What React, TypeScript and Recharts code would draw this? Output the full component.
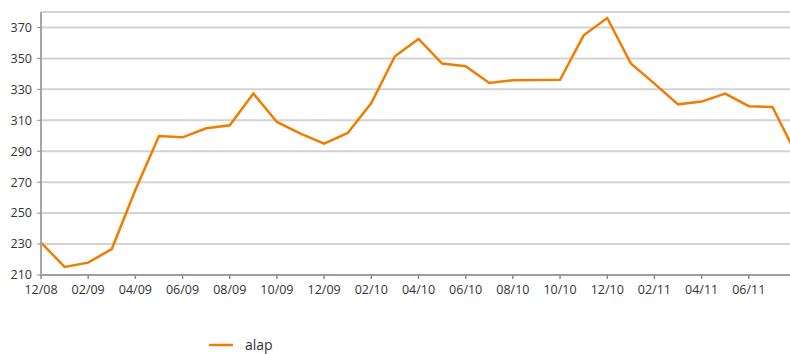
import React from "react";
import { LineChart, Line, XAxis, YAxis, CartesianGrid } from "recharts";

// havi adatok 12/08 - 08/11
const months = [
  "12/08", "01/09", "02/09", "03/09", "04/09", "05/09", "06/09", "07/09", "08/09", "09/09", "10/09", "11/09",
  "12/09", "01/10", "02/10", "03/10", "04/10", "05/10", "06/10", "07/10", "08/10", "09/10", "10/10", "11/10",
  "12/10", "01/11", "02/11", "03/11", "04/11", "05/11", "06/11", "07/11", "08/11",
];

const alap = [
  231, 215.2, 218, 226.8, 265, 299.8, 299, 304.8, 306.8, 327.3, 308.9, 301.4,
  294.9, 301.8, 321.2, 351.4, 362.6, 346.7, 344.9, 334.1, 335.9, 336.1, 336.2, 364.9,
  376.1, 346.7, 333.7, 320.3, 322.1, 327.3, 319.1, 318.6, 288.4,
];

const yTicks = [210, 230, 250, 270, 290, 310, 330, 350, 370, 380];
const xTicks = months.filter((_, i) => i % 2 === 0 && i < months.length - 1);

const data = months.map((m, i) => ({ month: m, alap: alap[i] }));

const FONT = "'Open Sans', sans-serif";
const ORANGE = "#ef7d00";

function YTick(props: any) {
  const { x, y, payload } = props;
  if (payload.value === 380) return null;
  return (
    <g>
      <line x1={x + 5} x2={x + 9} y1={y} y2={y} stroke="#8c8c8c" strokeWidth={1} />
      <text x={x} y={y} dy="0.35em" textAnchor="end" fill="#333" fontSize={12.5} fontFamily={FONT}>
        {payload.value}
      </text>
    </g>
  );
}

export default function App() {
  return (
    <div style={{ position: "absolute", left: 0, top: 0, width: 790, height: 354, background: "#fff", overflow: "hidden" }}>
      {/* a diagram jobbra kilóg a képből, ahogy az eredetin is */}
      <LineChart width={796} height={354} data={data} margin={{ top: 12, right: 0, left: 0, bottom: 49 }}>
        <CartesianGrid vertical={false} stroke="#d3d3d3" strokeWidth={2} />
        <XAxis
          dataKey="month"
          ticks={xTicks}
          interval={0}
          height={30}
          tickSize={4}
          tickMargin={6}
          stroke="#8c8c8c"
          strokeWidth={1.5}
          tick={{ fill: "#333", fontSize: 12.5, fontFamily: FONT }}
        />
        <YAxis
          domain={[210, 380]}
          ticks={yTicks}
          interval={0}
          width={41}
          tickSize={4}
          tickMargin={5}
          tickLine={false}
          stroke="#a6a6a6"
          strokeWidth={2}
          tick={<YTick />}
        />
        <Line
          type="linear"
          dataKey="alap"
          stroke={ORANGE}
          strokeWidth={2.5}
          dot={false}
          isAnimationActive={false}
        />
      </LineChart>
      {/* jelmagyarázat */}
      <div style={{ position: "absolute", left: 209, top: 335, display: "flex", alignItems: "center", fontFamily: FONT }}>
        <svg width={24} height={4} style={{ display: "block" }}>
          <line x1={0} x2={24} y1={2} y2={2} stroke={ORANGE} strokeWidth={2.5} />
        </svg>
        <span style={{ marginLeft: 12, fontSize: 14, color: "#333", lineHeight: "20px" }}>alap</span>
      </div>
    </div>
  );
}
